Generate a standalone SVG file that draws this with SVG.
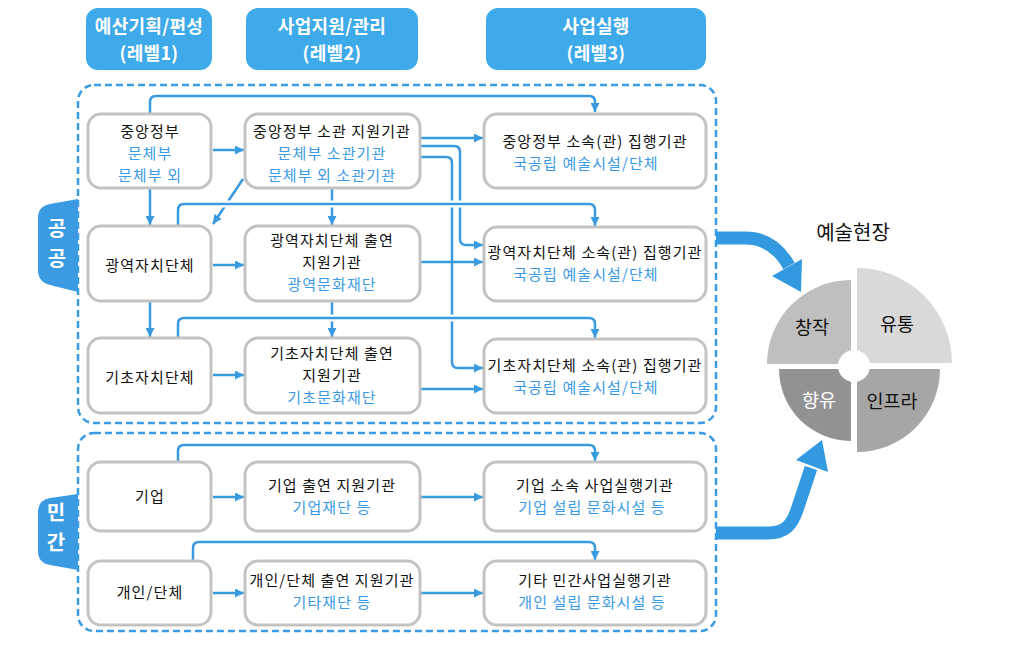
<svg xmlns="http://www.w3.org/2000/svg" width="1009" height="655" viewBox="0 0 1009 655">
<defs>
<style>
text{font-family:"Noto Sans CJK KR","Noto Sans",sans-serif;text-anchor:middle}
.hd{fill:#3FAAE9}
.hdt{fill:#fff;font-size:18px;font-weight:700;letter-spacing:0.3px}
.box{fill:#fff;stroke:#C3C3C3;stroke-width:3}
.k{fill:#111;font-size:15px;letter-spacing:1.1px}
.b{fill:#3A9AE5;font-size:15px;letter-spacing:1.1px}
.dash{fill:none;stroke:#3A9BE3;stroke-width:2.5;stroke-dasharray:7 4}
.tab{fill:#3A9BE2}
.tabt{fill:#fff;font-size:20px;font-weight:700}
.c{fill:none;stroke:#3A9AE0;stroke-width:2.5;marker-end:url(#ah)}
.halo{fill:none;stroke:#fff;stroke-width:7}
.big{fill:none;stroke:#3399E1;stroke-width:13}
.pt{font-size:18.5px}
</style>
<marker id="ah" viewBox="0 0 10 10" refX="10" refY="5" markerWidth="10" markerHeight="9" markerUnits="userSpaceOnUse" orient="auto"><path d="M0,0 L10,5 L0,10 z" fill="#3A9AE0"/></marker>
</defs>
<rect width="1009" height="655" fill="#fff"/>

<g id="headers">
<g id="h1"><rect class="hd" x="86" y="8" width="126" height="62" rx="12"/><text class="hdt" x="149" y="33">예산기획/편성</text><text class="hdt" x="149" y="60">(레벨1)</text></g>
<g id="h2"><rect class="hd" x="246" y="8" width="172" height="62" rx="12"/><text class="hdt" x="332" y="33">사업지원/관리</text><text class="hdt" x="332" y="60">(레벨2)</text></g>
<g id="h3"><rect class="hd" x="486" y="8" width="220" height="62" rx="12"/><text class="hdt" x="596" y="33">사업실행</text><text class="hdt" x="596" y="60">(레벨3)</text></g>
</g>

<g id="regions">
<rect class="dash" x="78" y="85" width="638" height="338" rx="16"/>
<rect class="dash" x="78" y="433" width="638" height="198" rx="16"/>
<g id="tab-public"><path class="tab" d="M78,199 V292 L50,285 Q38,282 38,270 V218 Q38,206 50,204 Z"/><text class="tabt" x="57" y="236">공</text><text class="tabt" x="57" y="266">공</text></g>
<g id="tab-private"><path class="tab" d="M78,494 V570 L50,565 Q38,563 38,551 V512 Q38,500 50,498 Z"/><text class="tabt" x="56" y="520">민</text><text class="tabt" x="56" y="550">간</text></g>
</g>

<g id="connectors">
<path class="c" d="M213,150 H244"/>
<path class="c" d="M150,113 V102 Q150,96 156,96 H589 Q595,96 595,102 V112"/>
<path class="c" d="M421,138 H483"/>
<path class="c" d="M421,146 H454 Q460,146 460,152 V239 Q460,245 466,245 H483"/>
<path class="c" d="M421,157 H446 Q452,157 452,163 V362 Q452,368 458,368 H483"/>
<path class="c" d="M150,189 V225"/>
<path class="c" d="M332,189 V225"/>
<path class="c" d="M243,179 L213,224"/>
<path class="c" d="M213,265 H244"/>
<path class="c" d="M421,262 H483"/>
<path class="c" d="M150,302 V337"/>
<path class="c" d="M332,302 V337"/>
<path class="c" d="M213,375 H244"/>
<path class="c" d="M421,389 H483"/>
<path class="halo" d="M178,226 V210 Q178,204 184,204 H589"/>
<path class="c" d="M178,226 V210 Q178,204 184,204 H589 Q595,204 595,210 V226"/>
<path class="halo" d="M178,338 V324 Q178,318 184,318 H589"/>
<path class="c" d="M178,338 V324 Q178,318 184,318 H589 Q595,318 595,324 V338"/>
<path class="c" d="M178,462 V451 Q178,445 184,445 H589 Q595,445 595,451 V461"/>
<path class="c" d="M213,497 H244"/>
<path class="c" d="M421,497 H483"/>
<path class="c" d="M193,561 V548 Q193,542 199,542 H589 Q595,542 595,548 V560"/>
<path class="c" d="M213,593 H244"/>
<path class="c" d="M421,593 H483"/>
</g>

<g id="n-central"><rect class="box" x="88" y="114" width="123" height="74" rx="13"/><text class="k" x="150" y="137">중앙정부</text><text class="b" x="150" y="159">문체부</text><text class="b" x="150" y="181">문체부 외</text></g>
<g id="n-central-support"><rect class="box" x="245" y="114" width="175" height="74" rx="13"/><text class="k" x="332" y="137">중앙정부 소관 지원기관</text><text class="b" x="332" y="159">문체부 소관기관</text><text class="b" x="332" y="181">문체부 외 소관기관</text></g>
<g id="n-central-exec"><rect class="box" x="484" y="114" width="222" height="74" rx="13"/><text class="k" x="595" y="147">중앙정부 소속(관) 집행기관</text><text class="b" x="586" y="169">국공립 예술시설/단체</text></g>

<g id="n-metro"><rect class="box" x="88" y="226" width="123" height="75" rx="13"/><text class="k" x="150" y="271">광역자치단체</text></g>
<g id="n-metro-support"><rect class="box" x="245" y="226" width="175" height="75" rx="13"/><text class="k" x="332" y="246">광역자치단체 출연</text><text class="k" x="332" y="268">지원기관</text><text class="b" x="332" y="290">광역문화재단</text></g>
<g id="n-metro-exec"><rect class="box" x="484" y="227" width="222" height="74" rx="13"/><text class="k" x="595" y="258">광역자치단체 소속(관) 집행기관</text><text class="b" x="586" y="280">국공립 예술시설/단체</text></g>

<g id="n-local"><rect class="box" x="88" y="338" width="123" height="75" rx="13"/><text class="k" x="150" y="383">기초자치단체</text></g>
<g id="n-local-support"><rect class="box" x="245" y="338" width="175" height="75" rx="13"/><text class="k" x="332" y="359">기초자치단체 출연</text><text class="k" x="332" y="381">지원기관</text><text class="b" x="332" y="403">기초문화재단</text></g>
<g id="n-local-exec"><rect class="box" x="484" y="339" width="222" height="74" rx="13"/><text class="k" x="595" y="371">기초자치단체 소속(관) 집행기관</text><text class="b" x="586" y="393">국공립 예술시설/단체</text></g>

<g id="n-corp"><rect class="box" x="88" y="462" width="123" height="69" rx="13"/><text class="k" x="150" y="502">기업</text></g>
<g id="n-corp-support"><rect class="box" x="245" y="462" width="175" height="69" rx="13"/><text class="k" x="332" y="491">기업 출연 지원기관</text><text class="b" x="332" y="513">기업재단 등</text></g>
<g id="n-corp-exec"><rect class="box" x="484" y="462" width="222" height="69" rx="13"/><text class="k" x="595" y="491">기업 소속 사업실행기관</text><text class="b" x="592" y="513">기업 설립 문화시설 등</text></g>

<g id="n-indiv"><rect class="box" x="88" y="561" width="123" height="64" rx="13"/><text class="k" x="150" y="598">개인/단체</text></g>
<g id="n-indiv-support"><rect class="box" x="245" y="561" width="175" height="64" rx="13"/><text class="k" x="332" y="586">개인/단체 출연 지원기관</text><text class="b" x="332" y="608">기타재단 등</text></g>
<g id="n-indiv-exec"><rect class="box" x="484" y="561" width="222" height="64" rx="13"/><text class="k" x="595" y="586">기타 민간사업실행기관</text><text class="b" x="592" y="608">개인 설립 문화시설 등</text></g>

<g id="big-arrows">
<path class="big" d="M716,238 H745 C765,238 779,248 789,266"/>
<polygon points="801,292 802,259 772,276" fill="#3399E1"/>
<path class="big" d="M716,533 H768 C785,533 792,525 797,510 L811,468"/>
<polygon points="822,440 828,472 796,460" fill="#3399E1"/>
</g>

<g id="art-field">
<text x="853" y="240" style="font-size:20px;fill:#111">예술현장</text>
<path d="M851,364 L767,364 A84,84 0 0 1 851,280 Z" fill="#BFBFBF"/>
<path d="M857,363 L857,268 A95,95 0 0 1 952,363 Z" fill="#D9D9D9"/>
<path d="M857,369 L940,369 A83,83 0 0 1 857,452 Z" fill="#A6A6A6"/>
<path d="M851,369 L851,441 A72,72 0 0 1 779,369 Z" fill="#929292"/>
<circle cx="854" cy="366" r="16" fill="#fff"/>
<text class="pt" x="812" y="334" fill="#111">창작</text>
<text class="pt" x="897" y="331" fill="#111">유통</text>
<text class="pt" x="819" y="407" fill="#fff">향유</text>
<text class="pt" x="892" y="408" fill="#111">인프라</text>
</g>
</svg>
